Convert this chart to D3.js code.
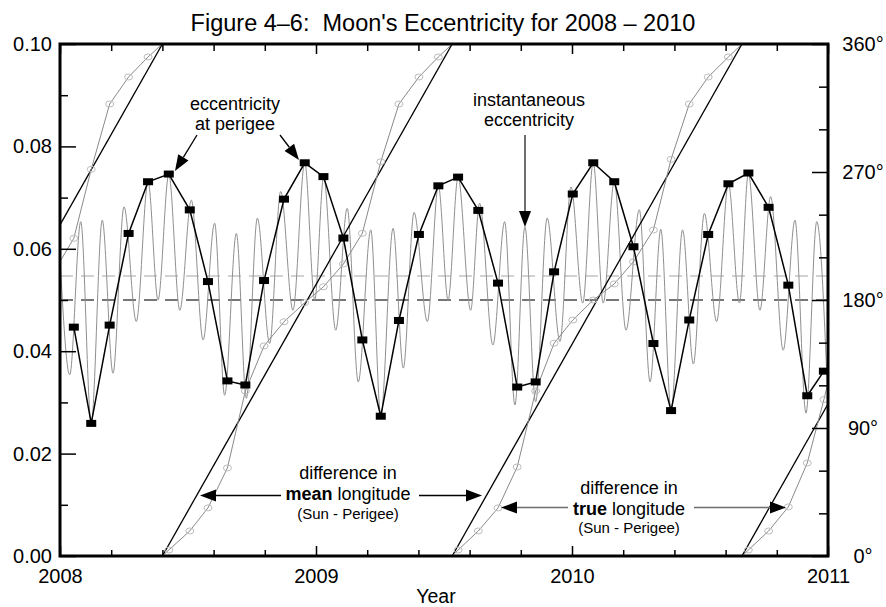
<!DOCTYPE html>
<html><head><meta charset="utf-8">
<script src="https://cdn.jsdelivr.net/npm/d3@7"></script>
<style>
body{margin:0;background:#fff;}
svg{display:block;font-family:"Liberation Sans",Arial,Helvetica,sans-serif;}
</style></head><body>
<svg id="chart" width="886" height="607"></svg>
<script>
// ---------- data ----------
const yearTicks = [2008, 2009, 2010, 2011];
const eccTicks = [0.00, 0.02, 0.04, 0.06, 0.08, 0.10];
const degTicks = [0, 90, 180, 270, 360];

// eccentricity at perigee (black squares)
const perigeeYears = [2008.054, 2008.122, 2008.194, 2008.268, 2008.344, 2008.425, 2008.507, 2008.578, 2008.654, 2008.724,
  2008.797, 2008.875, 2008.956, 2009.029, 2009.107, 2009.181, 2009.253, 2009.324, 2009.402, 2009.478,
  2009.555, 2009.634, 2009.711, 2009.786, 2009.858, 2009.930, 2010.003, 2010.083, 2010.165, 2010.240,
  2010.318, 2010.387, 2010.458, 2010.532, 2010.611, 2010.689, 2010.768, 2010.845, 2010.919, 2010.984];
const perigeeEcc = [0.0447, 0.0259, 0.0451, 0.0630, 0.0731, 0.0746, 0.0676, 0.0536, 0.0342, 0.0334,
  0.0538, 0.0697, 0.0768, 0.0741, 0.0621, 0.0422, 0.0273, 0.0460, 0.0628, 0.0723,
  0.0740, 0.0675, 0.0533, 0.0330, 0.0340, 0.0555, 0.0707, 0.0768, 0.0731, 0.0604,
  0.0415, 0.0284, 0.0461, 0.0628, 0.0727, 0.0748, 0.0681, 0.0529, 0.0313, 0.0361];

// instantaneous eccentricity (gray line, turning points)
const instYears = [2008.000, 2008.038, 2008.081, 2008.122, 2008.165, 2008.207, 2008.250, 2008.298, 2008.344, 2008.383,
  2008.425, 2008.468, 2008.513, 2008.559, 2008.604, 2008.643, 2008.689, 2008.728, 2008.771, 2008.819,
  2008.862, 2008.910, 2008.956, 2008.995, 2009.030, 2009.077, 2009.122, 2009.165, 2009.214, 2009.253,
  2009.301, 2009.341, 2009.383, 2009.435, 2009.478, 2009.516, 2009.555, 2009.604, 2009.639, 2009.691,
  2009.737, 2009.777, 2009.816, 2009.858, 2009.903, 2009.953, 2009.996, 2010.042, 2010.083, 2010.122,
  2010.165, 2010.211, 2010.263, 2010.305, 2010.347, 2010.387, 2010.432, 2010.474, 2010.517, 2010.565,
  2010.611, 2010.654, 2010.689, 2010.734, 2010.776, 2010.825, 2010.871, 2010.914, 2010.956, 2011.000];
const instEcc = [0.0582, 0.0354, 0.0653, 0.0259, 0.0656, 0.0357, 0.0682, 0.0458, 0.0731, 0.0500,
  0.0745, 0.0480, 0.0695, 0.0422, 0.0650, 0.0314, 0.0630, 0.0308, 0.0660, 0.0415,
  0.0712, 0.0480, 0.0768, 0.0500, 0.0740, 0.0441, 0.0679, 0.0340, 0.0637, 0.0273,
  0.0640, 0.0367, 0.0671, 0.0458, 0.0723, 0.0500, 0.0740, 0.0480, 0.0689, 0.0412,
  0.0653, 0.0295, 0.0643, 0.0301, 0.0660, 0.0419, 0.0721, 0.0494, 0.0768, 0.0494,
  0.0731, 0.0441, 0.0676, 0.0340, 0.0638, 0.0284, 0.0637, 0.0375, 0.0669, 0.0458,
  0.0727, 0.0494, 0.0747, 0.0480, 0.0702, 0.0402, 0.0656, 0.0279, 0.0653, 0.0295];

// difference in true longitude Sun - Perigee (degrees), gray line with circles
const trueLonYears = [2008.000].concat(perigeeYears, [2011.000]);
const trueLonDeg = [207, 223.4, 271.9, 317.8, 336.8, 350.9, 4.2, 17.6, 33.8, 61.9, 116,
  147.7, 164.7, 178.1, 189.3, 205.3, 226.9, 277.2, 317.8, 336.8, 350.9,
  4.2, 17.6, 33.8, 62.6, 116, 149.6, 165.9, 180, 191.3, 206.9,
  229.2, 278.9, 317.8, 336.8, 350.9, 4.2, 17.6, 34.5, 65.4, 110, 122];

// years at which the Sun - Perigee longitude difference passes 0 deg (mean longitude is linear between them)
const lonZeroYears = [2007.268, 2008.400, 2009.532, 2010.664, 2011.796];

const meanEccRef = 0.0547;   // light dashed
const eccRef = 0.05;         // dark dashed

// ---------- layout ----------
const svg = d3.select("#chart");
const L = 60, R = 828, T = 44, B = 556;
const x = d3.scaleLinear().domain([2008, 2011]).range([L, R]);
const y = d3.scaleLinear().domain([0, 0.1]).range([B, T]);
const yd = d3.scaleLinear().domain([0, 360]).range([B, T]);

svg.append("defs").append("clipPath").attr("id", "clip")
  .append("rect").attr("x", L).attr("y", T).attr("width", R - L).attr("height", B - T);

const plot = svg.append("g").attr("clip-path", "url(#clip)");

// reference dashed lines
plot.append("line").attr("x1", L).attr("x2", R).attr("y1", y(meanEccRef)).attr("y2", y(meanEccRef))
  .attr("stroke", "#d2d2d2").attr("stroke-width", 2).attr("stroke-dasharray", "13,8");
plot.append("line").attr("x1", L).attr("x2", R).attr("y1", y(eccRef)).attr("y2", y(eccRef))
  .attr("stroke", "#767676").attr("stroke-width", 2).attr("stroke-dasharray", "13,8");

// instantaneous eccentricity
const inst = instYears.map((t, i) => ({t, e: instEcc[i]}));
plot.append("path").datum(inst)
  .attr("d", d3.line().x(d => x(d.t)).y(d => y(d.e)).curve(d3.curveMonotoneX))
  .attr("fill", "none").attr("stroke", "#8f8f8f").attr("stroke-width", 1);

// mean longitude difference (straight lines)
for (let i = 0; i < lonZeroYears.length - 1; i++) {
  plot.append("line")
    .attr("x1", x(lonZeroYears[i])).attr("y1", yd(0))
    .attr("x2", x(lonZeroYears[i + 1])).attr("y2", yd(360))
    .attr("stroke", "#000").attr("stroke-width", 1.3);
}

// true longitude difference
const tl = trueLonYears.map((t, i) => ({t, d: trueLonDeg[i]}));
const segs = []; let cur = [tl[0]];
for (let i = 1; i < tl.length; i++) {
  if (tl[i].d < tl[i - 1].d) {
    const z = lonZeroYears.find(v => v > tl[i - 1].t && v < tl[i].t);
    cur.push({t: z, d: 360}); segs.push(cur); cur = [{t: z, d: 0}];
  }
  cur.push(tl[i]);
}
segs.push(cur);
const tlLine = d3.line().x(d => x(d.t)).y(d => yd(d.d));
segs.forEach(s => plot.append("path").datum(s).attr("d", tlLine)
  .attr("fill", "none").attr("stroke", "#8a8a8a").attr("stroke-width", 1));
plot.selectAll("ellipse.tl").data(tl.slice(1, tl.length - 1)).join("ellipse")
  .attr("class", "tl").attr("cx", d => x(d.t)).attr("cy", d => yd(d.d))
  .attr("rx", 4).attr("ry", 3).attr("fill", "none").attr("stroke", "#bdbdbd").attr("stroke-width", 1);

// eccentricity at perigee
const per = perigeeYears.map((t, i) => ({t, e: perigeeEcc[i]}));
plot.append("path").datum(per)
  .attr("d", d3.line().x(d => x(d.t)).y(d => y(d.e)))
  .attr("fill", "none").attr("stroke", "#000").attr("stroke-width", 1.5);
plot.selectAll("rect.sq").data(per).join("rect")
  .attr("class", "sq").attr("x", d => x(d.t) - 5).attr("y", d => y(d.e) - 3.5)
  .attr("width", 10).attr("height", 7).attr("fill", "#000");

// ---------- axes ----------
const tickFont = g => g.selectAll("text").attr("font-size", 20).attr("font-family", "Liberation Sans, Arial, sans-serif").attr("fill", "#000");
const clean = g => { g.select(".domain").remove(); g.selectAll("line").attr("stroke", "#000").attr("stroke-width", 1.5); };

const minorYears = d3.range(2008, 2011.0001, 0.2).filter(v => Math.abs(v - Math.round(v)) > 1e-6);
const minorEcc = [0.01, 0.03, 0.05, 0.07, 0.09];
const minorDeg = d3.range(0, 361, 30).filter(v => v % 90 !== 0);

// bottom
svg.append("g").attr("transform", `translate(0,${B})`)
  .call(d3.axisBottom(x).tickValues(yearTicks).tickFormat(d3.format("d")).tickSizeInner(-10).tickSizeOuter(0).tickPadding(13))
  .call(clean).call(tickFont);
svg.append("g").attr("transform", `translate(0,${B})`)
  .call(d3.axisBottom(x).tickValues(minorYears).tickFormat("").tickSizeInner(-6).tickSizeOuter(0)).call(clean);
// top
svg.append("g").attr("transform", `translate(0,${T})`)
  .call(d3.axisTop(x).tickValues(yearTicks).tickFormat("").tickSizeInner(-10).tickSizeOuter(0)).call(clean);
svg.append("g").attr("transform", `translate(0,${T})`)
  .call(d3.axisTop(x).tickValues(minorYears).tickFormat("").tickSizeInner(-7).tickSizeOuter(0)).call(clean);
// left
svg.append("g").attr("transform", `translate(${L},0)`)
  .call(d3.axisLeft(y).tickValues(eccTicks).tickFormat(d3.format(".2f")).tickSizeInner(-16).tickSizeOuter(0).tickPadding(8))
  .call(clean).call(tickFont);
svg.append("g").attr("transform", `translate(${L},0)`)
  .call(d3.axisLeft(y).tickValues(minorEcc).tickFormat("").tickSizeInner(-8).tickSizeOuter(0)).call(clean);
// right
svg.append("g").attr("transform", `translate(${R},0)`)
  .call(d3.axisRight(yd).tickValues(degTicks).tickFormat(d => d + "°").tickSizeInner(-16).tickSizeOuter(0).tickPadding(35))
  .call(clean).call(tickFont).call(g => g.selectAll("text").attr("text-anchor", "middle"));
svg.append("g").attr("transform", `translate(${R},0)`)
  .call(d3.axisRight(yd).tickValues(minorDeg).tickFormat("").tickSizeInner(-9).tickSizeOuter(0)).call(clean);

// frame
svg.append("rect").attr("x", L).attr("y", T).attr("width", R - L).attr("height", B - T)
  .attr("fill", "none").attr("stroke", "#000").attr("stroke-width", 3);

// ---------- titles ----------
svg.append("text").attr("x", 443).attr("y", 31).attr("text-anchor", "middle")
  .attr("font-size", 23.5).style("white-space", "pre")
  .text("Figure 4\u20136:  Moon's Eccentricity for 2008 \u2013 2010");
svg.append("text").attr("x", 436).attr("y", 603).attr("text-anchor", "middle")
  .attr("font-size", 19.5).text("Year");

// ---------- annotations ----------
function arrow(x1, y1, x2, y2, shaft, head, w) {
  const a = Math.atan2(y2 - y1, x2 - x1), hl = 16, hw = 6;
  const bx = x2 - hl * Math.cos(a), by = y2 - hl * Math.sin(a);
  svg.append("line").attr("x1", x1).attr("y1", y1).attr("x2", bx).attr("y2", by)
    .attr("stroke", shaft).attr("stroke-width", w);
  const px = -Math.sin(a) * hw, py = Math.cos(a) * hw;
  svg.append("path").attr("d", `M${x2},${y2}L${bx + px},${by + py}L${bx - px},${by - py}Z`).attr("fill", head);
}
function label(cx, lines) {
  lines.forEach(l => {
    const t = svg.append("text").attr("x", cx).attr("y", l.y).attr("text-anchor", "middle").attr("font-size", l.s || 18);
    l.parts.forEach(p => t.append("tspan").attr("font-weight", p.b ? "bold" : null).text(p.t));
  });
}
label(235, [{y: 110, parts: [{t: "eccentricity"}]}, {y: 130, parts: [{t: "at perigee"}]}]);
arrow(197, 135, 175, 171, "#000", "#000", 1.3);
arrow(280, 135, 299, 160, "#000", "#000", 1.3);

label(529, [{y: 106, parts: [{t: "instantaneous"}]}, {y: 126, parts: [{t: "eccentricity"}]}]);
arrow(525, 135, 525, 227, "#6e6e6e", "#000", 2);

label(348, [{y: 479, parts: [{t: "difference in"}]},
  {y: 500, parts: [{t: "mean", b: true}, {t: " longitude"}]},
  {y: 519, s: 15, parts: [{t: "(Sun - Perigee)"}]}]);
arrow(281, 495.5, 200, 495.5, "#000", "#000", 1.3);
arrow(419, 495.5, 482, 495.5, "#000", "#000", 1.3);

label(629, [{y: 494, parts: [{t: "difference in"}]},
  {y: 515, parts: [{t: "true", b: true}, {t: " longitude"}]},
  {y: 533, s: 15, parts: [{t: "(Sun - Perigee)"}]}]);
arrow(568, 507.5, 501, 507.5, "#6e6e6e", "#000", 1.5);
arrow(694, 507.5, 786, 507.5, "#6e6e6e", "#000", 1.5);
</script>
</body></html>
